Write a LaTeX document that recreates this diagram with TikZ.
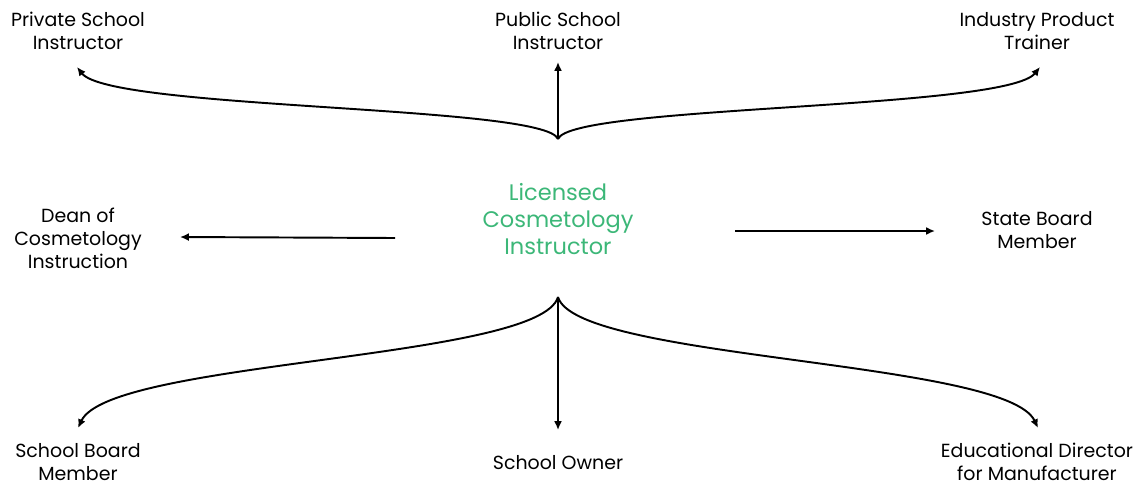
\documentclass[tikz,border=0pt]{standalone}
\usepackage{fontspec}
\setmainfont{Poppins}
\usepackage{xcolor}
\usetikzlibrary{arrows.meta}
\definecolor{certgreen}{RGB}{60,183,120}
\tikzset{
  career/.style={align=center, font=\fontsize{10.8}{13}\selectfont, inner sep=0pt},
  link/.style={line width=1.1pt, -{Latex[length=5pt,width=4.5pt]}}
}
\begin{document}
\begin{tikzpicture}[x=0.02cm, y=-0.02cm]
    \useasboundingbox (0,0) rectangle (1148,487);

    % puesto central
    \node[align=center, text=certgreen, inner sep=0pt,
          font=\fontsize{12.8}{15.5}\selectfont] (lci) at (558,219)
        {Licensed\\Cosmetology\\Instructor};

    % puestos arriba
    \node[career] (priv) at (78,31) {Private School\\Instructor};
    \node[career] (pub) at (558,31) {Public School\\Instructor};
    \node[career] (ind) at (1037,31) {Industry Product\\Trainer};

    % puestos al lado
    \node[career] (dean) at (78,238) {Dean of\\Cosmetology\\Instruction};
    \node[career] (state) at (1037,230) {State Board\\Member};

    % puestos abajo
    \node[career] (board) at (78,462) {School Board\\Member};
    \node[career] (owner) at (558,463) {School Owner};
    \node[career] (edu) at (1037,462) {Educational Director\\for Manufacturer};

    % horquillas y puntas
    \coordinate (topfork) at (558,139);
    \coordinate (botfork) at (558,297);
    \coordinate (privtip) at (77,67);
    \coordinate (pubtip) at (558,62);
    \coordinate (indtip) at (1040,67);
    \coordinate (boardtip) at (78,428);
    \coordinate (ownertip) at (558,430);
    \coordinate (edutip) at (1038,428);
    \coordinate (deanout) at (395,238);
    \coordinate (deantip) at (180,237);
    \coordinate (stateout) at (735,231);
    \coordinate (statetip) at (935,231);

    % flechas arriba
    \draw[link] (topfork) .. controls (545,105) and (110,110) .. (privtip);
    \draw[link] (topfork) -- (pubtip);
    \draw[link] (topfork) .. controls (571,105) and (1006,110) .. (indtip);

    % flechas al lado
    \draw[link] (deanout) -- (deantip);
    \draw[link] (stateout) -- (statetip);

    % flechas abajo
    \draw[link] (botfork) .. controls (540,360) and (110,360) .. (boardtip);
    \draw[link] (botfork) -- (ownertip);
    \draw[link] (botfork) .. controls (576,360) and (1006,360) .. (edutip);

\end{tikzpicture}
\end{document}
